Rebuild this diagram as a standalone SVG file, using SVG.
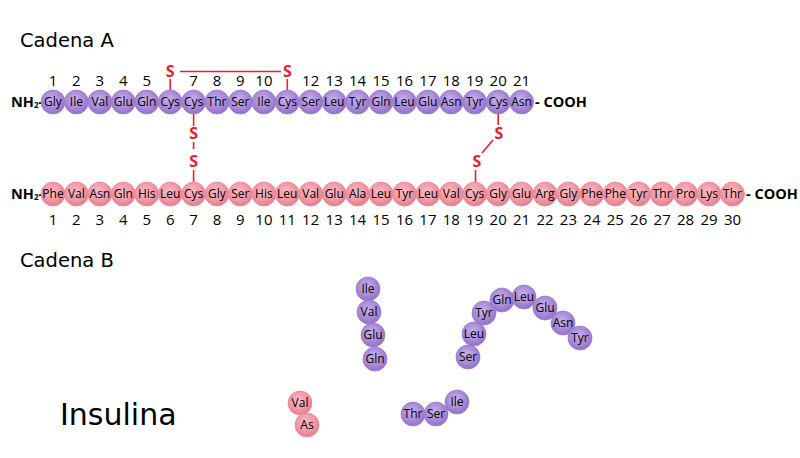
<svg xmlns="http://www.w3.org/2000/svg" width="800" height="458" viewBox="0 0 800 458">
<defs>
<radialGradient id="gp" cx="45%" cy="40%" r="60%">
<stop offset="0" stop-color="#c7b3ec"/>
<stop offset="0.6" stop-color="#a98ad8"/>
<stop offset="1" stop-color="#9371c9"/>
</radialGradient>
<radialGradient id="gk" cx="45%" cy="40%" r="60%">
<stop offset="0" stop-color="#f9bdc5"/>
<stop offset="0.6" stop-color="#f29aa6"/>
<stop offset="1" stop-color="#e47d8d"/>
</radialGradient>
</defs>
<style>
.pa{fill:url(#gp);stroke:#9a7bcc;stroke-width:0.8}
.pb{fill:url(#gk);stroke:#e8899a;stroke-width:0.8}
.aa{font-family:"Open Sans","DejaVu Sans",sans-serif;font-size:12px;fill:#000;text-anchor:middle}
.num{font-family:"Open Sans","DejaVu Sans",sans-serif;font-size:15px;fill:#000;text-anchor:middle}
.term{font-family:"Open Sans","DejaVu Sans",sans-serif;font-size:14.5px;font-weight:bold;fill:#000}
.sub{font-size:8px}
.s{font-family:"Open Sans","DejaVu Sans",sans-serif;font-size:16px;font-weight:bold;fill:#e8202e;text-anchor:middle}
.bond{stroke:#e8202e;stroke-width:1.6;fill:none}
.title{font-family:"DejaVu Sans",Verdana,sans-serif;fill:#000}
</style>
<rect width="800" height="458" fill="#fff"/>
<text class="title" x="20" y="47" font-size="19.5">Cadena A</text>
<text class="title" x="20" y="267" font-size="19.5">Cadena B</text>
<text class="title" x="60" y="425" font-size="30">Insulina</text>

<g id="connectors">
<line class="bond" x1="180" y1="71.5" x2="281" y2="71.5"/>
<line class="bond" x1="170.2" y1="79" x2="170.2" y2="90"/>
<line class="bond" x1="287.3" y1="79" x2="287.3" y2="90"/>
<line class="bond" x1="193.6" y1="114" x2="193.6" y2="126"/>
<line class="bond" x1="193.6" y1="142" x2="193.6" y2="149"/>
<line class="bond" x1="193.6" y1="170" x2="193.6" y2="182"/>
<line class="bond" x1="498.2" y1="114" x2="498.2" y2="125"/>
<line class="bond" x1="493" y1="140" x2="482" y2="153"/>
<line class="bond" x1="475.5" y1="170" x2="475.5" y2="182"/>
</g>

<g id="sulfur">
<text id="s1" class="s" x="170.2" y="77">S</text>
<text id="s2" class="s" x="287.3" y="77">S</text>
<text id="s3" class="s" x="193.6" y="139">S</text>
<text id="s4" class="s" x="193.6" y="167">S</text>
<text id="s5" class="s" x="499" y="139">S</text>
<text id="s6" class="s" x="477" y="167">S</text>
</g>

<g id="chainA-ends">
<text class="term" x="11" y="107">NH<tspan class="sub" dy="1">2</tspan><tspan dy="-1">-</tspan></text>
<text class="term" x="535" y="107">- COOH</text>
</g>
<g id="chainB-ends">
<text class="term" x="11" y="199">NH<tspan class="sub" dy="1">2</tspan><tspan dy="-1">-</tspan></text>
<text class="term" x="746" y="199">- COOH</text>
</g>

<g id="chainA">
<g id="a1"><text class="num" x="53" y="86">1</text><circle class="pa" cx="53" cy="102" r="12"/><text class="aa" x="53" y="106">Gly</text></g>
<g id="a2"><text class="num" x="76.4" y="86">2</text><circle class="pa" cx="76.4" cy="102" r="12"/><text class="aa" x="76.4" y="106">Ile</text></g>
<g id="a3"><text class="num" x="99.9" y="86">3</text><circle class="pa" cx="99.9" cy="102" r="12"/><text class="aa" x="99.9" y="106">Val</text></g>
<g id="a4"><text class="num" x="123.3" y="86">4</text><circle class="pa" cx="123.3" cy="102" r="12"/><text class="aa" x="123.3" y="106">Glu</text></g>
<g id="a5"><text class="num" x="146.7" y="86">5</text><circle class="pa" cx="146.7" cy="102" r="12"/><text class="aa" x="146.7" y="106">Gln</text></g>
<g id="a6"><circle class="pa" cx="170.2" cy="102" r="12"/><text class="aa" x="170.2" y="106">Cys</text></g>
<g id="a7"><text class="num" x="193.6" y="86">7</text><circle class="pa" cx="193.6" cy="102" r="12"/><text class="aa" x="193.6" y="106">Cys</text></g>
<g id="a8"><text class="num" x="217" y="86">8</text><circle class="pa" cx="217" cy="102" r="12"/><text class="aa" x="217" y="106">Thr</text></g>
<g id="a9"><text class="num" x="240.4" y="86">9</text><circle class="pa" cx="240.4" cy="102" r="12"/><text class="aa" x="240.4" y="106">Ser</text></g>
<g id="a10"><text class="num" x="263.9" y="86">10</text><circle class="pa" cx="263.9" cy="102" r="12"/><text class="aa" x="263.9" y="106">Ile</text></g>
<g id="a11"><circle class="pa" cx="287.3" cy="102" r="12"/><text class="aa" x="287.3" y="106">Cys</text></g>
<g id="a12"><text class="num" x="310.7" y="86">12</text><circle class="pa" cx="310.7" cy="102" r="12"/><text class="aa" x="310.7" y="106">Ser</text></g>
<g id="a13"><text class="num" x="334.2" y="86">13</text><circle class="pa" cx="334.2" cy="102" r="12"/><text class="aa" x="334.2" y="106">Leu</text></g>
<g id="a14"><text class="num" x="357.6" y="86">14</text><circle class="pa" cx="357.6" cy="102" r="12"/><text class="aa" x="357.6" y="106">Tyr</text></g>
<g id="a15"><text class="num" x="381" y="86">15</text><circle class="pa" cx="381" cy="102" r="12"/><text class="aa" x="381" y="106">Gln</text></g>
<g id="a16"><text class="num" x="404.5" y="86">16</text><circle class="pa" cx="404.5" cy="102" r="12"/><text class="aa" x="404.5" y="106">Leu</text></g>
<g id="a17"><text class="num" x="427.9" y="86">17</text><circle class="pa" cx="427.9" cy="102" r="12"/><text class="aa" x="427.9" y="106">Glu</text></g>
<g id="a18"><text class="num" x="451.3" y="86">18</text><circle class="pa" cx="451.3" cy="102" r="12"/><text class="aa" x="451.3" y="106">Asn</text></g>
<g id="a19"><text class="num" x="474.7" y="86">19</text><circle class="pa" cx="474.7" cy="102" r="12"/><text class="aa" x="474.7" y="106">Tyr</text></g>
<g id="a20"><text class="num" x="498.2" y="86">20</text><circle class="pa" cx="498.2" cy="102" r="12"/><text class="aa" x="498.2" y="106">Cys</text></g>
<g id="a21"><text class="num" x="521.6" y="86">21</text><circle class="pa" cx="521.6" cy="102" r="12"/><text class="aa" x="521.6" y="106">Asn</text></g>
</g>

<g id="chainB">
<g id="b1"><circle class="pb" cx="53" cy="194" r="12"/><text class="aa" x="53" y="198">Phe</text><text class="num" x="53" y="225">1</text></g>
<g id="b2"><circle class="pb" cx="76.4" cy="194" r="12"/><text class="aa" x="76.4" y="198">Val</text><text class="num" x="76.4" y="225">2</text></g>
<g id="b3"><circle class="pb" cx="99.9" cy="194" r="12"/><text class="aa" x="99.9" y="198">Asn</text><text class="num" x="99.9" y="225">3</text></g>
<g id="b4"><circle class="pb" cx="123.3" cy="194" r="12"/><text class="aa" x="123.3" y="198">Gln</text><text class="num" x="123.3" y="225">4</text></g>
<g id="b5"><circle class="pb" cx="146.7" cy="194" r="12"/><text class="aa" x="146.7" y="198">His</text><text class="num" x="146.7" y="225">5</text></g>
<g id="b6"><circle class="pb" cx="170.2" cy="194" r="12"/><text class="aa" x="170.2" y="198">Leu</text><text class="num" x="170.2" y="225">6</text></g>
<g id="b7"><circle class="pb" cx="193.6" cy="194" r="12"/><text class="aa" x="193.6" y="198">Cys</text><text class="num" x="193.6" y="225">7</text></g>
<g id="b8"><circle class="pb" cx="217" cy="194" r="12"/><text class="aa" x="217" y="198">Gly</text><text class="num" x="217" y="225">8</text></g>
<g id="b9"><circle class="pb" cx="240.4" cy="194" r="12"/><text class="aa" x="240.4" y="198">Ser</text><text class="num" x="240.4" y="225">9</text></g>
<g id="b10"><circle class="pb" cx="263.9" cy="194" r="12"/><text class="aa" x="263.9" y="198">His</text><text class="num" x="263.9" y="225">10</text></g>
<g id="b11"><circle class="pb" cx="287.3" cy="194" r="12"/><text class="aa" x="287.3" y="198">Leu</text><text class="num" x="287.3" y="225">11</text></g>
<g id="b12"><circle class="pb" cx="310.7" cy="194" r="12"/><text class="aa" x="310.7" y="198">Val</text><text class="num" x="310.7" y="225">12</text></g>
<g id="b13"><circle class="pb" cx="334.2" cy="194" r="12"/><text class="aa" x="334.2" y="198">Glu</text><text class="num" x="334.2" y="225">13</text></g>
<g id="b14"><circle class="pb" cx="357.6" cy="194" r="12"/><text class="aa" x="357.6" y="198">Ala</text><text class="num" x="357.6" y="225">14</text></g>
<g id="b15"><circle class="pb" cx="381" cy="194" r="12"/><text class="aa" x="381" y="198">Leu</text><text class="num" x="381" y="225">15</text></g>
<g id="b16"><circle class="pb" cx="404.5" cy="194" r="12"/><text class="aa" x="404.5" y="198">Tyr</text><text class="num" x="404.5" y="225">16</text></g>
<g id="b17"><circle class="pb" cx="427.9" cy="194" r="12"/><text class="aa" x="427.9" y="198">Leu</text><text class="num" x="427.9" y="225">17</text></g>
<g id="b18"><circle class="pb" cx="451.3" cy="194" r="12"/><text class="aa" x="451.3" y="198">Val</text><text class="num" x="451.3" y="225">18</text></g>
<g id="b19"><circle class="pb" cx="474.7" cy="194" r="12"/><text class="aa" x="474.7" y="198">Cys</text><text class="num" x="474.7" y="225">19</text></g>
<g id="b20"><circle class="pb" cx="498.2" cy="194" r="12"/><text class="aa" x="498.2" y="198">Gly</text><text class="num" x="498.2" y="225">20</text></g>
<g id="b21"><circle class="pb" cx="521.6" cy="194" r="12"/><text class="aa" x="521.6" y="198">Glu</text><text class="num" x="521.6" y="225">21</text></g>
<g id="b22"><circle class="pb" cx="545" cy="194" r="12"/><text class="aa" x="545" y="198">Arg</text><text class="num" x="545" y="225">22</text></g>
<g id="b23"><circle class="pb" cx="568.4" cy="194" r="12"/><text class="aa" x="568.4" y="198">Gly</text><text class="num" x="568.4" y="225">23</text></g>
<g id="b24"><circle class="pb" cx="591.9" cy="194" r="12"/><text class="aa" x="591.9" y="198">Phe</text><text class="num" x="591.9" y="225">24</text></g>
<g id="b25"><circle class="pb" cx="615.3" cy="194" r="12"/><text class="aa" x="615.3" y="198">Phe</text><text class="num" x="615.3" y="225">25</text></g>
<g id="b26"><circle class="pb" cx="638.7" cy="194" r="12"/><text class="aa" x="638.7" y="198">Tyr</text><text class="num" x="638.7" y="225">26</text></g>
<g id="b27"><circle class="pb" cx="662.2" cy="194" r="12"/><text class="aa" x="662.2" y="198">Thr</text><text class="num" x="662.2" y="225">27</text></g>
<g id="b28"><circle class="pb" cx="685.6" cy="194" r="12"/><text class="aa" x="685.6" y="198">Pro</text><text class="num" x="685.6" y="225">28</text></g>
<g id="b29"><circle class="pb" cx="709" cy="194" r="12"/><text class="aa" x="709" y="198">Lys</text><text class="num" x="709" y="225">29</text></g>
<g id="b30"><circle class="pb" cx="732.5" cy="194" r="12"/><text class="aa" x="732.5" y="198">Thr</text><text class="num" x="732.5" y="225">30</text></g>
</g>

<g id="fragments">
<g id="f1"><circle class="pa" cx="368" cy="289" r="12"/><text class="aa" x="368" y="293">Ile</text></g>
<g id="f2"><circle class="pa" cx="369" cy="312" r="12"/><text class="aa" x="369" y="316">Val</text></g>
<g id="f3"><circle class="pa" cx="373" cy="335" r="12"/><text class="aa" x="373" y="339">Glu</text></g>
<g id="f4"><circle class="pa" cx="375" cy="359" r="12"/><text class="aa" x="375" y="363">Gln</text></g>
<g id="f5"><circle class="pa" cx="468" cy="357" r="12"/><text class="aa" x="468" y="361">Ser</text></g>
<g id="f6"><circle class="pa" cx="474" cy="334" r="12"/><text class="aa" x="474" y="338">Leu</text></g>
<g id="f7"><circle class="pa" cx="484" cy="313" r="12"/><text class="aa" x="484" y="317">Tyr</text></g>
<g id="f8"><circle class="pa" cx="502" cy="300" r="12"/><text class="aa" x="502" y="304">Gln</text></g>
<g id="f9"><circle class="pa" cx="524" cy="297" r="12"/><text class="aa" x="524" y="301">Leu</text></g>
<g id="f10"><circle class="pa" cx="545" cy="308" r="12"/><text class="aa" x="545" y="312">Glu</text></g>
<g id="f11"><circle class="pa" cx="563" cy="323" r="12"/><text class="aa" x="563" y="327">Asn</text></g>
<g id="f12"><circle class="pa" cx="580" cy="338" r="12"/><text class="aa" x="580" y="342">Tyr</text></g>
<g id="f13"><circle class="pb" cx="300" cy="403" r="12"/><text class="aa" x="300" y="407">Val</text></g>
<g id="f14"><circle class="pb" cx="307" cy="425" r="12"/><text class="aa" x="307" y="429">As</text></g>
<g id="f15"><circle class="pa" cx="413" cy="414" r="12"/><text class="aa" x="413" y="418">Thr</text></g>
<g id="f16"><circle class="pa" cx="436" cy="414" r="12"/><text class="aa" x="436" y="418">Ser</text></g>
<g id="f17"><circle class="pa" cx="457" cy="402" r="12"/><text class="aa" x="457" y="406">Ile</text></g>
</g>
</svg>
